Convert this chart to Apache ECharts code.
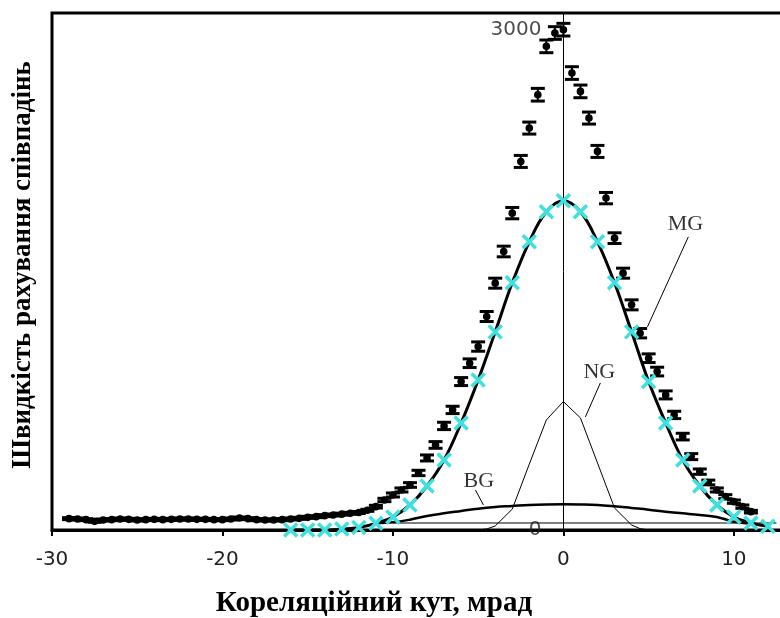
<!DOCTYPE html>
<html><head><meta charset="utf-8">
<script src="https://cdn.jsdelivr.net/npm/echarts@6/dist/echarts.min.js"></script>
<style>html,body{margin:0;padding:0;background:#fff}#c{width:780px;height:618px}</style>
</head><body><div id="c"></div>
<script>
// Measured coincidence data (angle in mrad, counts, error)
const angles = [-29,-28.5,-28,-27.5,-27,-26.5,-26,-25.5,-25,-24.5,-24,-23.5,-23,-22.5,-22,-21.5,-21,-20.5,-20,-19.5,-19,-18.5,-18,-17.5,-17,-16.5,-16,-15.5,-15,-14.5,-14,-13.5,-13,-12.5,-12,-11.5,-11,-10.5,-10,-9.5,-9,-8.5,-8,-7.5,-7,-6.5,-6,-5.5,-5,-4.5,-4,-3.5,-3,-2.5,-2,-1.5,-1,-0.5,0,0.5,1,1.5,2,2.5,3,3.5,4,4.5,5,5.5,6,6.5,7,7.5,8,8.5,9,9.5,10,10.5,11];
const counts = [68,66,62,52,60,62,66,64,60,62,64,62,64,66,66,64,64,62,62,66,72,68,62,60,60,62,66,70,76,80,86,90,95,100,105,118,140,180,210,240,270,342,432,510,624,720,890,1000,1100,1280,1480,1670,1900,2210,2410,2610,2900,2980,3000,2740,2630,2470,2270,1990,1750,1540,1350,1180,1030,950,810,690,560,440,350,285,240,200,170,140,110];
const errors = [6,6,6,6,6,6,6,6,6,6,6,6,6,6,6,6,6,6,6,6,6,6,6,6,6,6,6,6,6,6,6,6,6,6,6,6,8,10,12,12,14,16,18,20,22,22,24,26,28,30,30,32,34,36,36,38,38,38,38,38,38,36,36,34,32,30,30,28,26,26,24,22,20,18,16,14,12,12,10,10,8];
// Fit (MG) points – cyan crosses and thick curve
const fitX = [-16,-15,-14,-13,-12,-11,-10,-9,-8,-7,-6,-5,-4,-3,-2,-1,0,1,2,3,4,5,6,7,8,9,10,11,12];
const fitY = [0,0,0,6,15,40,78,150,264,420,642,900,1188,1482,1728,1908,1974,1908,1728,1482,1188,890,642,420,264,150,78,42,22];
// NG component
const ngX = [-5,-4.5,-4,-3,-2,-1,0,1,2,3,4,4.5,5];
const ngY = [0,6,24,125,395,660,770,672,402,132,30,8,0];
// BG component
const bgX = [-11,-10,-9,-8,-7,-6,-5,-4,-3,-2,-1,0,1,2,3,4,5,6,7,8,9,10,11];
const bgY = [40,46,62,84,100,114,128,138,144,150,153,154,153,150,142,132,122,110,100,90,78,50,40];
// thin reference line
const baseX = [-10,12.5];
const baseY = [42,42];
// axis ticks
const xTicks = [-30,-20,-10,0,10];
const yTicks = [0,3000];
// annotations: label text, label anchor, leader line start/end (data coords)
const annNames = ['MG','NG','BG'];
const annLabel = [[7.16,1833],[2.11,945],[-4.96,291]];
const annLineFrom = [[7.33,1758],[2.17,882],[-5.16,240]];
const annLineTo = [[4.93,1218],[1.29,678],[-4.69,150]];

const zip = (xs, ys) => xs.map((x,i)=>[x, ys[i]]);
const chart = echarts.init(document.getElementById('c'), null, {renderer:'canvas'});

function renderErr(params, api){
  const x = api.value(0), y = api.value(1), e = api.value(2);
  const p = api.coord([x,y]), hi = api.coord([x,y+e]), lo = api.coord([x,y-e]);
  const w = 7;
  return {type:'group', children:[
    {type:'line', shape:{x1:p[0],y1:hi[1],x2:p[0],y2:lo[1]}, style:{stroke:'#000',lineWidth:2}},
    {type:'line', shape:{x1:p[0]-w,y1:hi[1],x2:p[0]+w,y2:hi[1]}, style:{stroke:'#000',lineWidth:3}},
    {type:'line', shape:{x1:p[0]-w,y1:lo[1],x2:p[0]+w,y2:lo[1]}, style:{stroke:'#000',lineWidth:3}},
    {type:'circle', shape:{cx:p[0],cy:p[1],r:3.8}, style:{fill:'#000'}}
  ]};
}
function renderCross(params, api){
  const p = api.coord([api.value(0), api.value(1)]);
  const s = 6.5;
  const st = {stroke:'#3fe0e0', lineWidth:3.5};
  return {type:'group', children:[
    {type:'line', shape:{x1:p[0]-s,y1:p[1]-s,x2:p[0]+s,y2:p[1]+s}, style:st},
    {type:'line', shape:{x1:p[0]-s,y1:p[1]+s,x2:p[0]+s,y2:p[1]-s}, style:st}
  ]};
}

const serif = '"Liberation Serif", "Times New Roman", serif';
const series = [
  {type:'line', data:zip(baseX,baseY), symbol:'none', lineStyle:{color:'#000',width:1}, z:2, silent:true},
  {type:'line', data:zip(bgX,bgY), symbol:'none', smooth:0.4, lineStyle:{color:'#000',width:2.5}, z:2},
  {type:'line', data:zip(ngX,ngY), symbol:'none', lineStyle:{color:'#000',width:1}, z:2},
  {type:'line', data:zip(fitX,fitY), symbol:'none', smooth:0.4, lineStyle:{color:'#000',width:3}, z:3},
  {type:'custom', data:angles.map((a,i)=>[a,counts[i],errors[i]]), renderItem:renderErr, encode:{x:0,y:1}, z:4, clip:false},
  {type:'custom', data:zip(fitX,fitY), renderItem:renderCross, encode:{x:0,y:1}, z:5, clip:false},
  // y tick labels placed at the central axis (x = 0)
  {type:'scatter', symbolSize:0, z:1, silent:true,
    data:yTicks.map(v=>[0,v]),
    label:{show:true, position:'left', distance:22, formatter:p=>String(p.value[1]),
      color:'#222', fontFamily:'"DejaVu Sans", sans-serif', fontSize:20}}
];
annNames.forEach((n,i)=>{
  series.push({type:'line', data:[annLineFrom[i], annLineTo[i]], symbol:'none', lineStyle:{color:'#000',width:1}, z:3});
  series.push({type:'scatter', symbolSize:0, z:6,
    data:[{value:annLabel[i], name:n}],
    label:{show:true, position:'inside', formatter:'{b}', color:'#000', fontFamily:serif, fontSize:22}});
});

chart.setOption({
  animation:false,
  backgroundColor:'#fff',
  grid:{left:52, top:13, right:-5, bottom:88, show:true, borderColor:'#000', borderWidth:3,
    backgroundColor:'transparent', containLabel:false, outerBoundsMode:'none'},
  xAxis:{type:'value', min:-30, max:13, interval:10,
    axisLine:{onZero:false, lineStyle:{color:'#000', width:3}},
    axisTick:{show:true, length:6, lineStyle:{color:'#000', width:2}},
    splitLine:{show:false},
    axisLabel:{margin:20, color:'#222', fontFamily:'"DejaVu Sans", sans-serif', fontSize:20,
      formatter:v => xTicks.includes(v) ? String(v) : ''}},
  yAxis:{type:'value', min:0, max:3100, interval:3000,
    axisLine:{show:true, onZero:true, lineStyle:{color:'#000', width:1}},
    axisTick:{show:false}, splitLine:{show:false},
    axisLabel:{show:false}},
  graphic:[
    {type:'text', x:374, y:604, style:{text:'Кореляційний кут, мрад', font:'bold 29px ' + serif, fill:'#000', textAlign:'center', textVerticalAlign:'middle'}},
    {type:'text', x:23, y:265, rotation:Math.PI/2, style:{text:'Швидкість рахування співпадінь', font:'bold 27px ' + serif, fill:'#000', textAlign:'center', textVerticalAlign:'middle'}}
  ],
  series:series
});
</script></body></html>
